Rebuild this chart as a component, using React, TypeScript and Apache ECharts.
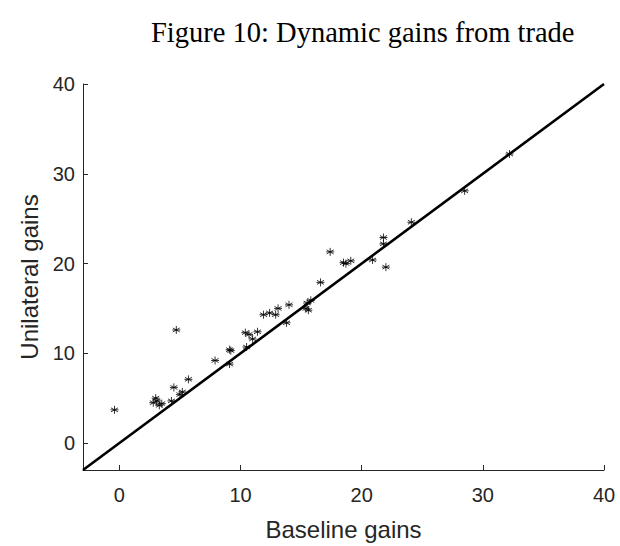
import React, { useEffect, useRef } from "react";
import * as echarts from "echarts";

const baselineGains = [
  -0.4, 2.8, 3.0, 3.1, 3.3, 3.5, 4.3, 4.5, 4.7, 5.0, 5.2, 5.7, 7.9, 9.1, 9.2, 9.1,
  10.4, 10.7, 10.5, 11.0, 11.4, 11.9, 12.4, 12.9, 13.1, 13.8, 14.0, 15.4, 15.6,
  15.5, 15.8, 16.6, 17.4, 18.5, 18.7, 19.1, 20.9, 21.8, 21.8, 22.0, 24.1, 28.5, 32.2,
];
const unilateralGains = [
  3.7, 4.5, 5.0, 4.7, 4.2, 4.4, 4.7, 6.2, 12.6, 5.4, 5.7, 7.1, 9.2, 10.4, 10.3, 8.8,
  12.3, 12.1, 10.7, 11.6, 12.4, 14.3, 14.5, 14.3, 15.0, 13.4, 15.4, 15.0, 14.8,
  15.6, 15.9, 17.9, 21.3, 20.1, 20.0, 20.3, 20.4, 22.9, 22.2, 19.6, 24.6, 28.1, 32.2,
];
const diagonal = [-3, 40];
const tickValues = [0, 10, 20, 30, 40];

const AXIS_COLOR = "#262626";

export default function App() {
  const ref = useRef<HTMLDivElement>(null);
  useEffect(() => {
    if (!ref.current) return;
    const chart = echarts.init(ref.current, null, { renderer: "svg" });
    const axisCommon = {
      type: "value",
      min: -3,
      max: 40,
      nameLocation: "middle",
      nameTextStyle: { fontFamily: "Liberation Sans", fontSize: 24, color: AXIS_COLOR },
      axisLine: { show: true, onZero: false, lineStyle: { color: AXIS_COLOR, width: 1 } },
      axisTick: {
        show: true,
        inside: true,
        length: 5,
        customValues: tickValues,
        lineStyle: { color: AXIS_COLOR },
      },
      axisLabel: {
        fontFamily: "Liberation Sans",
        fontSize: 20,
        color: AXIS_COLOR,
        customValues: tickValues,
        showMinLabel: true,
      },
      splitLine: { show: false },
    };
    chart.setOption({
      animation: false,
      backgroundColor: "#ffffff",
      title: {
        text: "Figure 10: Dynamic gains from trade",
        left: 146,
        top: 13,
        textStyle: {
          fontFamily: "Liberation Serif",
          fontWeight: "normal",
          fontSize: 28.5,
          color: "#000000",
        },
      },
      grid: { left: 83, right: 16, top: 84, bottom: 75, containLabel: false },
      xAxis: {
        ...axisCommon,
        name: "Baseline gains",
        nameGap: 47,
        axisLabel: { ...axisCommon.axisLabel, margin: 15 },
      },
      yAxis: {
        ...axisCommon,
        name: "Unilateral gains",
        nameGap: 42,
        axisLabel: { ...axisCommon.axisLabel, margin: 8 },
      },
      series: [
        {
          type: "line",
          data: diagonal.map((v) => [v, v]),
          showSymbol: false,
          symbol: "none",
          lineStyle: { color: "#000000", width: 2.6 },
          clip: true,
          z: 2,
        },
        {
          type: "scatter",
          data: baselineGains.map((x, i) => [x, unilateralGains[i]]),
          symbol: "path://M0,-5L0,5M-4.33,-2.5L4.33,2.5M-4.33,2.5L4.33,-2.5M-5,0L5,0",
          symbolSize: 8,
          itemStyle: { color: "#000000", borderColor: "#000000", borderWidth: 1 },
          z: 3,
        },
      ],
    });
    return () => chart.dispose();
  }, []);
  return <div ref={ref} style={{ width: 620, height: 546, position: "absolute", left: 0, top: 0 }} />;
}
